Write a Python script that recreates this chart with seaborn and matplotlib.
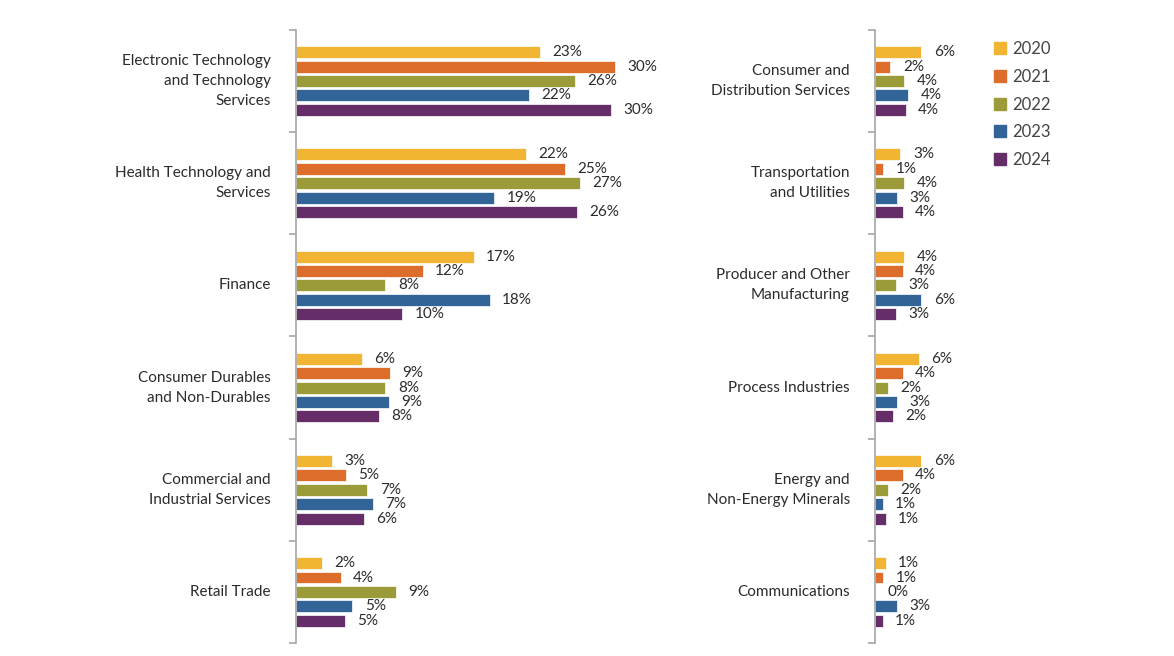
import matplotlib
matplotlib.use("Agg")
import matplotlib.pyplot as plt
import seaborn as sns
import pandas as pd
from matplotlib.lines import Line2D

# Data (percent of companies by sector, per year)
years = ["2020", "2021", "2022", "2023", "2024"]
colors = ["#F2B533", "#DC6D2A", "#9B9C39", "#336497", "#652E68"]

left_sectors = [
    "Electronic Technology\nand Technology\nServices",
    "Health Technology and\nServices",
    "Finance",
    "Consumer Durables\nand Non-Durables",
    "Commercial and\nIndustrial Services",
    "Retail Trade",
]
left_values = [
    [22.9, 30.0, 26.2, 21.9, 29.6],
    [21.6, 25.3, 26.7, 18.6, 26.4],
    [16.7, 11.9, 8.4, 18.2, 10.0],
    [6.2, 8.8, 8.4, 8.7, 7.8],
    [3.4, 4.7, 6.7, 7.2, 6.4],
    [2.4, 4.2, 9.4, 5.3, 4.6],
]

right_sectors = [
    "Consumer and\nDistribution Services",
    "Transportation\nand Utilities",
    "Producer and Other\nManufacturing",
    "Process Industries",
    "Energy and\nNon-Energy Minerals",
    "Communications",
]
right_values = [
    [6.0, 2.0, 3.8, 4.3, 4.0],
    [3.3, 1.1, 3.8, 2.8, 3.6],
    [3.8, 3.6, 2.7, 6.0, 2.7],
    [5.7, 3.6, 1.7, 2.8, 2.3],
    [6.0, 3.6, 1.7, 1.0, 1.4],
    [1.4, 1.1, 0.0, 2.8, 1.0],
]

sns.set_style("white")
plt.rcParams["font.family"] = ["Lato", "DejaVu Sans"]

TEXT = "#2b2b2b"
AXIS = "#a6a6a6"


def to_frame(sectors, values):
    rows = []
    for s, vals in zip(sectors, values):
        for y, v in zip(years, vals):
            rows.append({"sector": s, "year": y, "value": v})
    return pd.DataFrame(rows)


def draw_panel(ax, sectors, values, xmax):
    df = to_frame(sectors, values)
    sns.barplot(data=df, y="sector", x="value", hue="year", orient="h",
                palette=colors, hue_order=years, order=sectors, saturation=1,
                width=0.705, gap=0.17, edgecolor="white", linewidth=0.5,
                legend=False, ax=ax)
    for cont in ax.containers:
        labels = [f"{b.get_width():.0f}%" for b in cont]
        ax.bar_label(cont, labels=labels, padding=9, fontsize=11, color=TEXT)
    ax.set_xlim(0, xmax)
    ax.set_ylim(len(sectors) - 0.5, -0.5)
    ax.set_xlabel("")
    ax.set_ylabel("")
    ax.set_xticks([])
    # boundary ticks on the axis line, category names as minor ticks
    ax.set_yticks([i - 0.5 for i in range(len(sectors) + 1)])
    ax.set_yticklabels([])
    ax.set_yticks(range(len(sectors)), minor=True)
    ax.set_yticklabels(sectors, minor=True, fontsize=11, color=TEXT,
                       linespacing=1.55, va="center")
    ax.tick_params(axis="y", which="major", left=True, length=5, width=1.2,
                   color=AXIS, direction="out")
    ax.tick_params(axis="y", which="minor", left=True, length=0, pad=18)
    for side in ["top", "right", "bottom"]:
        ax.spines[side].set_visible(False)
    ax.spines["left"].set_color(AXIS)
    ax.spines["left"].set_linewidth(1.2)


fig = plt.figure(figsize=(11.74, 6.56), dpi=100)
ax1 = fig.add_axes([0.2521, 0.0198, 0.31, 0.9345])
ax2 = fig.add_axes([0.7453, 0.0198, 0.0852, 0.9345])

draw_panel(ax1, left_sectors, left_values, 34.2)
draw_panel(ax2, right_sectors, right_values, 13.0)

handles = [Line2D([0], [0], marker="s", linestyle="none", markersize=8,
                  markerfacecolor=c, markeredgecolor=c) for c in colors]
fig.legend(handles, years, loc="upper left", bbox_to_anchor=(0.833, 0.96),
           frameon=False, fontsize=12, labelcolor="#444444",
           handlelength=0.8, handletextpad=0.35, labelspacing=0.7)

fig.savefig("out.png", dpi=100)
